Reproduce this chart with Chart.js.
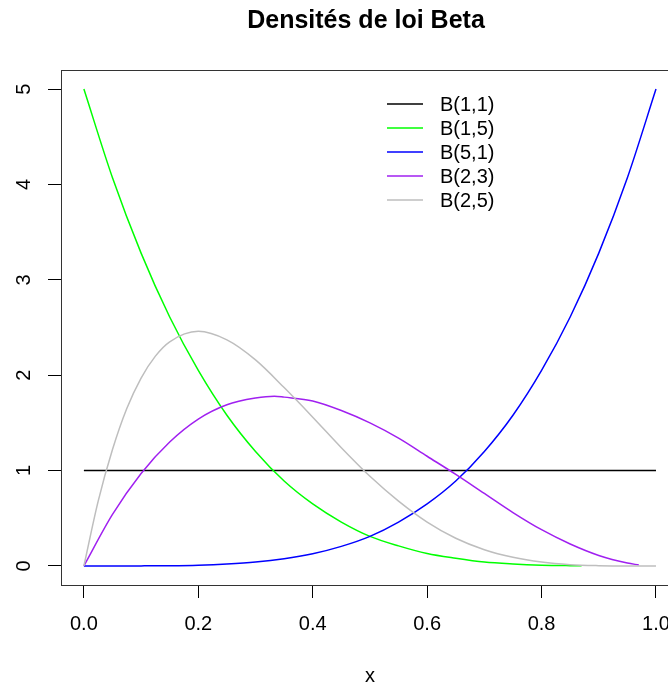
<!DOCTYPE html>
<html>
<head>
<meta charset="utf-8">
<title>Densités de loi Beta</title>
<script src="https://cdn.jsdelivr.net/npm/chart.js@4.4.1/dist/chart.umd.min.js"></script>
<style>
  html, body { margin: 0; padding: 0; background: #fff; overflow: hidden; }
  #wrap { position: absolute; left: 0; top: 0; width: 684px; height: 689px; }
</style>
</head>
<body>
<div id="wrap"><canvas id="myChart" width="684" height="689"></canvas></div>
<script>
// values
const xTicks = [0, 0.2, 0.4, 0.6, 0.8, 1.0];
const yTicks = [0, 1, 2, 3, 4, 5];
const seriesNames = ['B(1,1)', 'B(1,5)', 'B(5,1)', 'B(2,3)', 'B(2,5)'];
const seriesColors = ['#000000', '#00ff00', '#0000ff', '#a020f0', '#bebebe'];

const xB11 = [0, 1];
const yB11 = [1, 1];

const xB15 = [0, 0.05, 0.1, 0.15, 0.2, 0.25, 0.3, 0.35, 0.4, 0.45, 0.5, 0.55, 0.6, 0.65, 0.7, 0.75, 0.8, 0.85, 0.87];
const yB15 = [5, 4.07, 3.28, 2.61, 2.05, 1.58, 1.2, 0.89, 0.65, 0.46, 0.31, 0.21, 0.13, 0.08, 0.04, 0.02, 0.008, 0.003, 0.002];

const xB51 = [0, 0.05, 0.1, 0.15, 0.2, 0.25, 0.3, 0.35, 0.4, 0.45, 0.5, 0.55, 0.6, 0.65, 0.7, 0.75, 0.8, 0.85, 0.9, 0.95, 1];
const yB51 = [0, 0, 0.0005, 0.0025, 0.008, 0.02, 0.04, 0.075, 0.128, 0.205, 0.31, 0.46, 0.65, 0.89, 1.2, 1.58, 2.05, 2.61, 3.28, 4.07, 5];

const xB23 = [0, 0.05, 0.1, 0.15, 0.2, 0.25, 0.3, 0.333, 0.35, 0.4, 0.45, 0.5, 0.55, 0.6, 0.65, 0.7, 0.75, 0.8, 0.85, 0.9, 0.95, 0.97];
const yB23 = [0, 0.54, 0.97, 1.3, 1.54, 1.69, 1.76, 1.78, 1.77, 1.73, 1.63, 1.5, 1.34, 1.15, 0.96, 0.76, 0.56, 0.38, 0.23, 0.11, 0.03, 0.01];

const xB25 = [0, 0.025, 0.05, 0.075, 0.1, 0.125, 0.15, 0.2, 0.25, 0.3, 0.35, 0.4, 0.45, 0.5, 0.55, 0.6, 0.65, 0.7, 0.75, 0.8, 0.85, 0.9, 0.95, 1];
const yB25 = [0, 0.68, 1.22, 1.65, 1.97, 2.2, 2.35, 2.46, 2.37, 2.16, 1.87, 1.56, 1.24, 0.94, 0.68, 0.46, 0.29, 0.17, 0.09, 0.04, 0.013, 0.003, 0, 0];

const allX = [xB11, xB15, xB51, xB23, xB25];
const allY = [yB11, yB15, yB51, yB23, yB25];

const font = 'Liberation Sans, Arial, sans-serif';

function toPoints(xs, ys) {
  return xs.map((x, i) => ({ x: x, y: ys[i] }));
}

const datasets = seriesNames.map((name, i) => ({
  label: name,
  data: toPoints(allX[i], allY[i]),
  borderColor: seriesColors[i],
  borderWidth: 1.5,
  pointRadius: 0,
  fill: false,
  cubicInterpolationMode: 'monotone',
  order: seriesNames.length - i
}));

// title, rotated y labels, legend and the plot frame, R style
const decorations = {
  id: 'decorations',
  afterDraw(chart) {
    const ctx = chart.ctx;
    const area = chart.chartArea;
    const yScale = chart.scales.y;

    ctx.save();
    ctx.strokeStyle = '#333';
    ctx.lineWidth = 1;
    ctx.strokeRect(Math.round(area.left) + 0.5, Math.round(area.top) + 0.5,
      Math.round(area.right - area.left), Math.round(area.bottom - area.top));

    ctx.fillStyle = '#000';
    ctx.font = 'bold 25px ' + font;
    ctx.textAlign = 'center';
    ctx.textBaseline = 'middle';
    ctx.fillText('Densités de loi Beta', 366, 21);

    ctx.font = '20px ' + font;
    yTicks.forEach(v => {
      ctx.save();
      ctx.translate(24, yScale.getPixelForValue(v));
      ctx.rotate(-Math.PI / 2);
      ctx.fillText(String(v), 0, 0);
      ctx.restore();
    });

    ctx.textAlign = 'left';
    seriesNames.forEach((name, i) => {
      const y = 104 + i * 24;
      ctx.strokeStyle = seriesColors[i];
      ctx.lineWidth = 1.5;
      ctx.beginPath();
      ctx.moveTo(387, y);
      ctx.lineTo(423, y);
      ctx.stroke();
      ctx.fillStyle = '#000';
      ctx.fillText(name, 440, y + 1);
    });
    ctx.restore();
  }
};

const ctx = document.getElementById('myChart').getContext('2d');
new Chart(ctx, {
  type: 'line',
  data: { datasets: datasets },
  options: {
    responsive: false,
    animation: false,
    devicePixelRatio: 1,
    layout: { padding: { top: 70, right: 3, left: 0, bottom: 0 } },
    plugins: {
      legend: { display: false },
      title: { display: false },
      tooltip: { enabled: false }
    },
    scales: {
      x: {
        type: 'linear',
        min: -0.04,
        max: 1.04,
        afterBuildTicks: s => { s.ticks = xTicks.map(v => ({ value: v })); },
        afterFit: s => { s.height = 104; },
        ticks: {
          color: '#000',
          font: { family: font, size: 20 },
          padding: 14,
          maxRotation: 0,
          callback: v => Number(v).toFixed(1)
        },
        grid: { drawOnChartArea: false, tickLength: 13, tickColor: '#000', tickWidth: 1 },
        border: { display: true, color: '#333', width: 1 },
        title: {
          display: true,
          text: 'x',
          color: '#000',
          font: { family: font, size: 20 },
          padding: { top: 0, bottom: 1 }
        }
      },
      y: {
        type: 'linear',
        min: -0.2,
        max: 5.2,
        afterBuildTicks: s => { s.ticks = yTicks.map(v => ({ value: v })); },
        afterFit: s => { s.width = 61; },
        ticks: { color: 'rgba(0,0,0,0)', font: { family: font, size: 20 } },
        grid: { drawOnChartArea: false, tickLength: 13, tickColor: '#000', tickWidth: 1 },
        border: { display: true, color: '#333', width: 1 }
      }
    }
  },
  plugins: [decorations]
});
</script>
</body>
</html>
